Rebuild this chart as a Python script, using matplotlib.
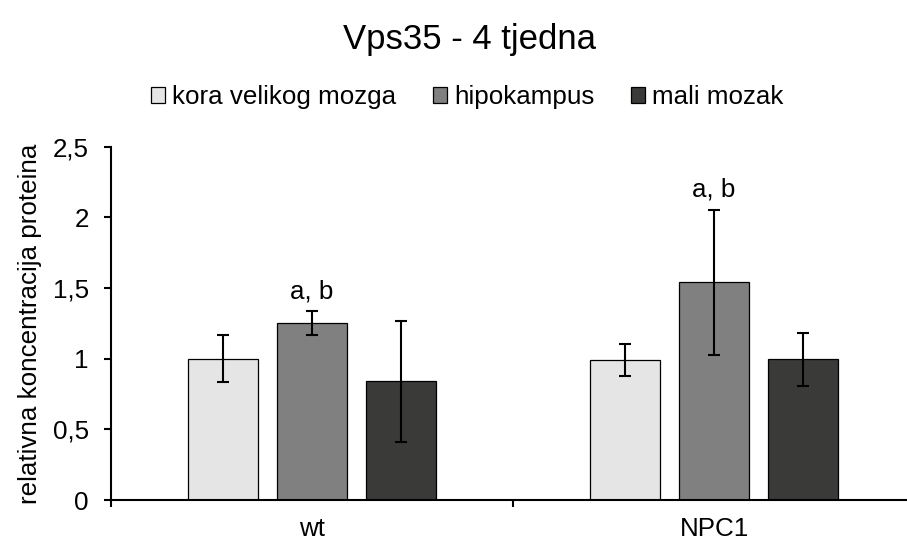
import matplotlib
matplotlib.use("Agg")
import matplotlib.pyplot as plt
from matplotlib.patches import Patch
import numpy as np

plt.rcParams['font.family'] = ['Liberation Sans', 'DejaVu Sans']

# data
groups = ["wt", "NPC1"]
regions = ["kora velikog mozga", "hipokampus", "mali mozak"]
means = {
    "kora velikog mozga": [1.00, 0.99],
    "hipokampus": [1.25, 1.54],
    "mali mozak": [0.84, 0.995],
}
errors = {
    "kora velikog mozga": [0.165, 0.115],
    "hipokampus": [0.085, 0.515],
    "mali mozak": [0.43, 0.19],
}
marks = {"hipokampus": ["a, b", "a, b"]}
yticks = [0, 0.5, 1, 1.5, 2, 2.5]
ytick_labels = ["0", "0,5", "1", "1,5", "2", "2,5"]
colors = ["#e5e5e5", "#808080", "#3a3a38"]

fs = 18.7
fig = plt.figure(figsize=(9.07, 5.42), dpi=100)
ax = fig.add_axes([111 / 907, 1 - 500 / 542, 804 / 907, 353.3 / 542])

x = np.arange(len(groups))
width = 0.1754
step = 0.2214
for i, reg in enumerate(regions):
    pos = x + (i - 1) * step
    ax.bar(pos, means[reg], width, color=colors[i], edgecolor="black",
           linewidth=0.9, zorder=2)
    ax.errorbar(pos, means[reg], yerr=errors[reg], fmt="none", ecolor="black",
                elinewidth=1.5, capsize=4.5, capthick=1.5, zorder=3)
    if reg in marks:
        for p, m, e, t in zip(pos, means[reg], errors[reg], marks[reg]):
            ax.text(p, m + e + 0.09, t, ha="center", va="baseline", fontsize=fs)

ax.set_xlim(-0.5, 1.5)
ax.set_ylim(0, 2.5)
ax.set_yticks(yticks)
ax.set_yticklabels(ytick_labels, fontsize=fs)
ax.set_xticks(x)
ax.set_xticklabels(groups, fontsize=fs)
ax.set_xticks([-0.5, 0.5, 1.5], minor=True)
ax.tick_params(axis="x", which="major", length=0, pad=12)
ax.tick_params(axis="x", which="minor", length=5, width=1.5, direction="out")
ax.tick_params(axis="y", length=5, width=1.5, direction="out", pad=11)

for s in ["top", "right"]:
    ax.spines[s].set_visible(False)
ax.spines["left"].set_linewidth(1.5)
ax.spines["bottom"].set_linewidth(1.5)

ax.set_ylabel("relativna koncentracija proteina", fontsize=fs)
ax.yaxis.set_label_coords(-0.086, 0.5)

fig.text(470 / 907, 1 - 40 / 542, "Vps35 - 4 tjedna", ha="center", va="center",
         fontsize=25)

handles = [Patch(facecolor=c, edgecolor="black", linewidth=0.9) for c in colors]
fig.legend(handles, regions, loc="center", bbox_to_anchor=(467 / 907, 1 - 97 / 542),
           ncol=3, frameon=False, fontsize=fs, handlelength=0.55, handleheight=0.55,
           handletextpad=0.27, columnspacing=1.4, borderpad=0, borderaxespad=0)

fig.savefig("out.png", dpi=100)
